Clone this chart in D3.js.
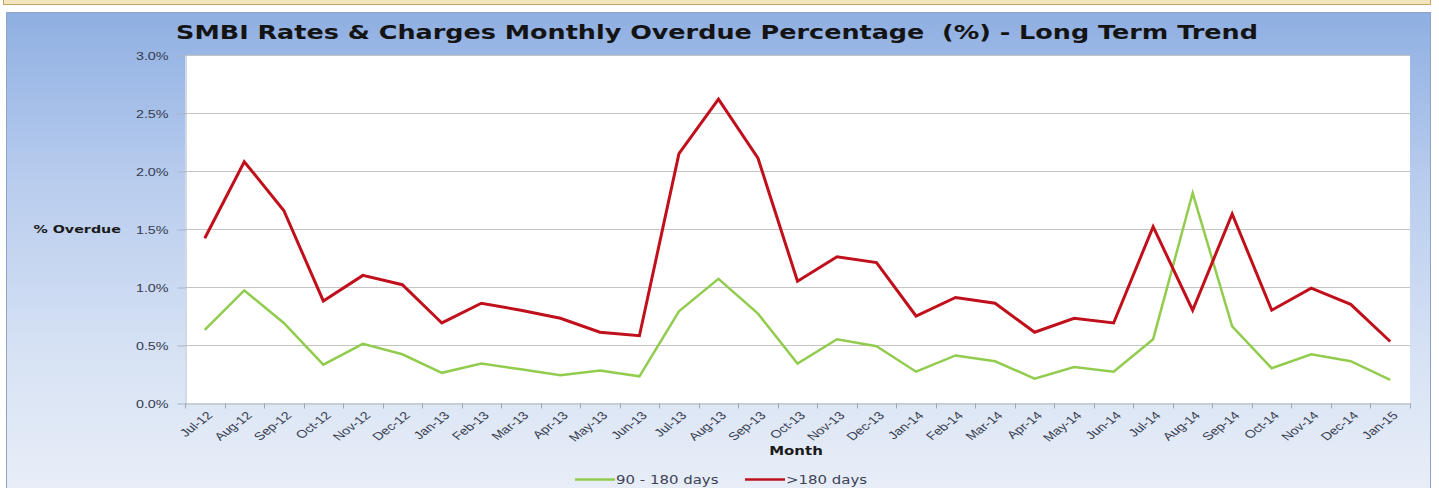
<!DOCTYPE html>
<meta charset="utf-8">
<style>
body { margin: 0; background: #fff; }
svg { display: block; font-family: "DejaVu Sans", Verdana, sans-serif; }
.grid line { stroke: #c4c4c4; stroke-width: 1px; }
.line { fill: none; stroke-linejoin: miter; }
.axis text { fill: #363c50; font-size: 11px; }
</style>
<svg width="1439" height="488"></svg>
<script src="https://cdn.jsdelivr.net/npm/d3@7"></script>
<script>
// data (values in %)
var months = ["Jul-12","Aug-12","Sep-12","Oct-12","Nov-12","Dec-12",
  "Jan-13","Feb-13","Mar-13","Apr-13","May-13","Jun-13","Jul-13","Aug-13","Sep-13","Oct-13","Nov-13","Dec-13",
  "Jan-14","Feb-14","Mar-14","Apr-14","May-14","Jun-14","Jul-14","Aug-14","Sep-14","Oct-14","Nov-14","Dec-14",
  "Jan-15"];
var days90to180 = [0.63,0.97,0.69,0.33,0.51,0.42,0.26,0.34,0.29,0.24,0.28,0.23,0.79,1.07,0.77,0.34,0.55,0.49,
  0.27,0.41,0.36,0.21,0.31,0.27,0.55,1.81,0.66,0.30,0.42,0.36,0.20];
var daysOver180 = [1.42,2.08,1.66,0.88,1.10,1.02,0.69,0.86,0.80,0.73,0.61,0.58,2.15,2.62,2.11,1.05,1.26,1.21,
  0.75,0.91,0.86,0.61,0.73,0.69,1.52,0.80,1.63,0.80,0.99,0.85,0.53];
var yTicks = [0,0.5,1,1.5,2,2.5,3];
var seriesNames = ["90 - 180 days", ">180 days"];
var seriesColors = ["#92cc4e", "#c0101c"];

var SX = 1.3; // the picture is stretched sideways

var svg = d3.select("svg"),
    plot = {left: 185, right: 1410, top: 55, bottom: 403};

// background
var defs = svg.append("defs");
var grad = defs.append("linearGradient")
    .attr("id", "bg")
    .attr("x1", 0).attr("y1", 0).attr("x2", 0).attr("y2", 1);
grad.append("stop").attr("offset", "0%").attr("stop-color", "#8fafe2");
grad.append("stop").attr("offset", "35%").attr("stop-color", "#b9cdee");
grad.append("stop").attr("offset", "70%").attr("stop-color", "#d7e2f4");
grad.append("stop").attr("offset", "100%").attr("stop-color", "#eaeff8");

svg.append("rect")
    .attr("x", 3.5).attr("y", -2)
    .attr("width", 1427).attr("height", 6.5)
    .attr("fill", "#f2e4bd")
    .attr("stroke", "#c6a466");

svg.append("rect")
    .attr("x", 6.5).attr("y", 12.5)
    .attr("width", 1424).attr("height", 490)
    .attr("fill", "url(#bg)")
    .attr("stroke", "#8ea3c6");

svg.append("rect")
    .attr("x", plot.left).attr("y", plot.top)
    .attr("width", plot.right - plot.left).attr("height", plot.bottom - plot.top)
    .attr("fill", "#fff");

//scales
var x = d3.scaleBand().domain(months).range([plot.left, plot.right]),
    y = d3.scaleLinear().domain([0, 3]).range([plot.bottom, plot.top]);

function cx(d) { return x(d) + x.bandwidth() / 2; }

//gridlines
svg.append("g")
    .attr("class", "grid")
    .selectAll("line")
    .data(yTicks.slice(1))
    .enter().append("line")
    .attr("x1", plot.left).attr("x2", plot.right)
    .attr("y1", function(d) { return y(d) + 0.5; })
    .attr("y2", function(d) { return y(d) + 0.5; });

//y axis
var yAxis = svg.append("g")
    .attr("class", "axis axis--y")
    .attr("transform", "translate(" + (plot.left + 0.5) + ",0.5)")
    .call(d3.axisLeft(y).tickValues(yTicks).tickSize(8).tickSizeOuter(0)
      .tickFormat(function(d) { return d.toFixed(1) + "%"; }));
yAxis.select(".domain").attr("stroke", "#a6b4cc");
yAxis.selectAll(".tick line").attr("stroke", "#a6b4cc");
yAxis.selectAll(".tick text")
    .attr("x", -17 / SX)
    .attr("transform", "scale(" + SX + ",1)");

//x axis
var xAxis = svg.append("g")
    .attr("class", "axis axis--x")
    .attr("transform", "translate(0," + (plot.bottom + 0.5) + ")")
    .call(d3.axisBottom(x).tickSize(0).tickSizeOuter(0));
xAxis.select(".domain").attr("stroke", "#b4b4b4");
xAxis.selectAll(".tick text")
    .attr("y", 0).attr("dy", "0.35em")
    .attr("text-anchor", "end")
    .attr("transform", "translate(5,10) scale(" + SX + ",1) rotate(-45)");

// tick marks sit between the months
xAxis.selectAll(".sep")
    .data(months.concat(["end"]))
    .enter().append("line")
    .attr("class", "sep")
    .attr("x1", function(d, i) { return Math.round(plot.left + i * x.bandwidth()) + 0.5; })
    .attr("x2", function(d, i) { return Math.round(plot.left + i * x.bandwidth()) + 0.5; })
    .attr("y1", 0).attr("y2", 5)
    .attr("stroke", "#9aa6b8");

//lines
var line = d3.line()
    .x(function(d, i) { return cx(months[i]); })
    .y(function(d) { return y(d); });

svg.selectAll(".line")
    .data([days90to180, daysOver180])
    .enter().append("path")
    .attr("class", "line")
    .attr("d", function(d) { return line(d); })
    .attr("stroke", function(d, i) { return seriesColors[i]; })
    .attr("stroke-width", function(d, i) { return i == 0 ? 2.5 : 3; });

//titles
svg.append("text")
    .attr("transform", "translate(717,39) scale(1.34,1)")
    .attr("text-anchor", "middle")
    .style("font-size", "19px")
    .style("font-weight", "bold")
    .attr("fill", "#141414")
    .attr("xml:space", "preserve")
    .text("SMBI Rates & Charges Monthly Overdue Percentage  (%) - Long Term Trend");

svg.append("text")
    .attr("transform", "translate(121," + (y(1.5) + 4) + ") scale(" + SX + ",1)")
    .attr("text-anchor", "end")
    .style("font-size", "11px")
    .style("font-weight", "bold")
    .attr("fill", "#1a1a1a")
    .text("% Overdue");

svg.append("text")
    .attr("transform", "translate(796,455) scale(" + SX + ",1)")
    .attr("text-anchor", "middle")
    .style("font-size", "11.5px")
    .style("font-weight", "bold")
    .attr("fill", "#1a1a1a")
    .text("Month");

//legend
var legend = svg.append("g")
    .attr("class", "legend")
    .selectAll("g")
    .data(seriesNames)
    .enter().append("g")
    .attr("transform", function(d, i) { return "translate(" + (575 + i * 170) + ",479.5)"; });

legend.append("line")
    .attr("x1", 0).attr("x2", 40)
    .attr("stroke", function(d, i) { return seriesColors[i]; })
    .attr("stroke-width", 2.5);

legend.append("text")
    .attr("transform", "translate(41,4) scale(" + SX + ",1)")
    .style("font-size", "11.5px")
    .attr("fill", "#3c4256")
    .text(function(d) { return d; });
</script>
